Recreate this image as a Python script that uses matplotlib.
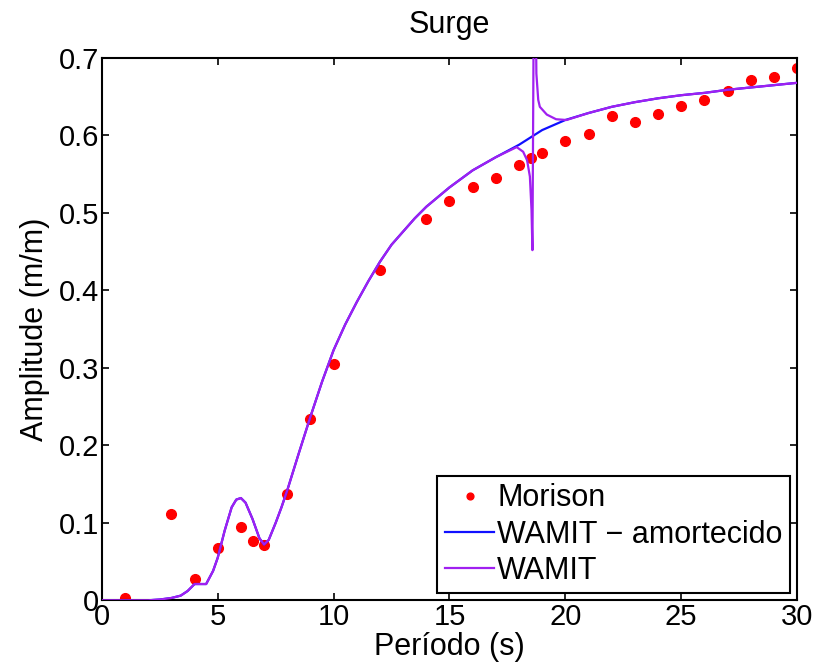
import matplotlib
matplotlib.use('Agg')
import matplotlib.pyplot as plt
from matplotlib.ticker import FormatStrFormatter

plt.rcParams['font.family'] = ['Liberation Sans', 'DejaVu Sans']

# Morison points
periodo_morison = [1, 3, 4, 5, 6, 6.5, 7, 8, 9, 10, 12, 14, 15, 16, 17, 18, 18.5, 19,
                   20, 21, 22, 23, 24, 25, 26, 27, 28, 29, 30]
amp_morison = [0.003, 0.111, 0.028, 0.068, 0.094, 0.076, 0.071, 0.137, 0.234, 0.305,
               0.426, 0.492, 0.515, 0.534, 0.545, 0.562, 0.571, 0.577, 0.593, 0.602,
               0.625, 0.618, 0.628, 0.638, 0.646, 0.658, 0.671, 0.676, 0.687]

# WAMIT - amortecido (damped)
periodo_amort = [0, 1, 2, 2.5, 3, 3.4, 3.7, 4.0, 4.5, 4.8, 5.0, 5.3, 5.6, 5.8, 6.0, 6.2,
                 6.5, 6.8, 7.0, 7.2, 7.5, 7.75, 8.0, 8.5, 9.0, 9.5, 10, 10.5, 11, 11.5,
                 12, 12.5, 13, 13.5, 14, 15, 16, 17, 18, 19, 20, 21, 22, 23, 24, 25,
                 26, 27, 28, 29, 30]
amp_amort = [0, 0, 0.0, 0.001, 0.003, 0.006, 0.012, 0.021, 0.021, 0.038, 0.055, 0.09,
             0.12, 0.13, 0.132, 0.126, 0.105, 0.08, 0.072, 0.078, 0.1, 0.12, 0.142,
             0.19, 0.237, 0.282, 0.323, 0.356, 0.385, 0.412, 0.437, 0.459, 0.476,
             0.493, 0.508, 0.533, 0.555, 0.572, 0.588, 0.607, 0.620, 0.629, 0.637,
             0.643, 0.648, 0.652, 0.655, 0.659, 0.662, 0.665, 0.668]

# WAMIT (undamped, with resonance spike near 18.6 s)
periodo_wamit = [0, 1, 2, 2.5, 3, 3.4, 3.7, 4.0, 4.5, 4.8, 5.0, 5.3, 5.6, 5.8, 6.0, 6.2,
                 6.5, 6.8, 7.0, 7.2, 7.5, 7.75, 8.0, 8.5, 9.0, 9.5, 10, 10.5, 11, 11.5,
                 12, 12.5, 13, 13.5, 14, 15, 16, 17, 17.9, 18.18, 18.35, 18.47, 18.54,
                 18.58, 18.67, 18.75, 18.83, 18.9, 19.2, 19.6, 20.05, 21, 22, 23, 24,
                 25, 26, 27, 28, 29, 30]
amp_wamit = [0, 0, 0.0, 0.001, 0.003, 0.006, 0.012, 0.021, 0.021, 0.038, 0.055, 0.09,
             0.12, 0.13, 0.132, 0.126, 0.105, 0.08, 0.072, 0.078, 0.1, 0.12, 0.142,
             0.19, 0.237, 0.282, 0.323, 0.356, 0.385, 0.412, 0.437, 0.459, 0.476,
             0.493, 0.508, 0.533, 0.555, 0.572, 0.585, 0.579, 0.568, 0.547, 0.504,
             0.452, 0.95, 0.68, 0.646, 0.637, 0.627, 0.621, 0.620, 0.629, 0.637,
             0.643, 0.648, 0.652, 0.655, 0.659, 0.662, 0.665, 0.668]

fig = plt.figure(figsize=(8.15, 6.67), dpi=100)
ax = fig.add_axes([0.125, 0.1, 0.853, 0.813])

ax.plot(periodo_morison, amp_morison, 'o', color='red', markersize=7, label='Morison',
        zorder=1)
ax.plot(periodo_amort, amp_amort, color='#1010ff', lw=1.6, label='WAMIT \u2212 amortecido',
        zorder=2)
ax.plot(periodo_wamit, amp_wamit, color='#a020f0', lw=1.6, label='WAMIT', zorder=3)

ax.set_xlim(0, 30)
ax.set_ylim(0, 0.7)
ax.set_xticks(range(0, 31, 5))
ax.set_yticks([0, 0.1, 0.2, 0.3, 0.4, 0.5, 0.6, 0.7])
ax.yaxis.set_major_formatter(FormatStrFormatter('%g'))
ax.tick_params(direction='in', length=5, width=1.2, top=True, right=True,
               labelsize=21, pad=2)
for s in ax.spines.values():
    s.set_linewidth(1.5)

ax.set_title('Surge', fontsize=22, pad=18)
ax.set_xlabel('Período (s)', fontsize=22, labelpad=1)
ax.set_ylabel('Amplitude (m/m)', fontsize=22, labelpad=6)

leg = ax.legend(loc='lower right', fontsize=22, frameon=True, fancybox=False,
                edgecolor='black', framealpha=1, borderaxespad=0.23,
                handlelength=1.6, handletextpad=0.1, labelspacing=0.2,
                borderpad=0.25, markerscale=0.7, numpoints=1)
leg.get_frame().set_linewidth(1.5)

fig.savefig('out.png', dpi=100)
